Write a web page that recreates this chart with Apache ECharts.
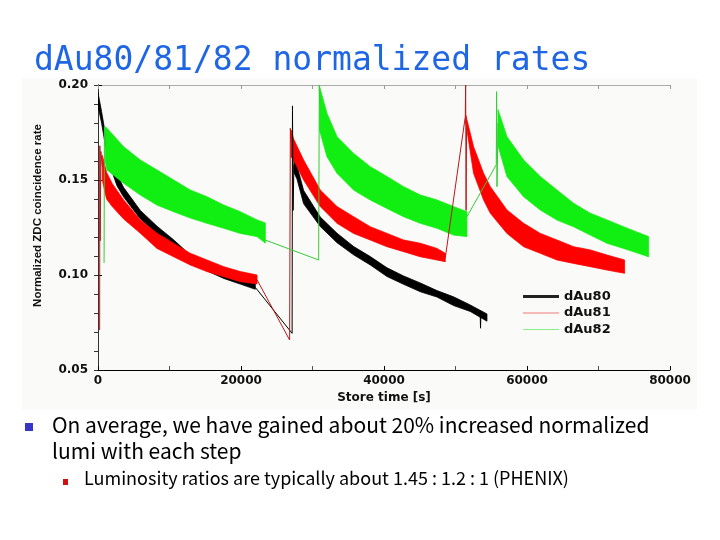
<!DOCTYPE html>
<html>
<head>
<meta charset="utf-8">
<script src="https://cdn.jsdelivr.net/npm/echarts@6/dist/echarts.min.js"></script>
<style>
  html, body { margin: 0; padding: 0; background: #fff; }
  #chart { width: 720px; height: 540px; }
</style>
</head>
<body>
<div id="chart"></div>
<script>
// tick labels
var xTicks = [0, 20000, 40000, 60000, 80000];
var yTicks = [0.05, 0.10, 0.15, 0.20];

// dAu80 (black) - noisy bands read as lower / upper envelope
var au80_t1  = [0, 500, 1000, 2000, 2650, 3590, 5920, 8250, 10580, 12900, 15240, 17580, 19900, 22000];
var au80_hi1 = [0.196, 0.186, 0.175, 0.160, 0.153, 0.146, 0.134, 0.1257, 0.1185, 0.1105, 0.106, 0.102, 0.099, 0.096];
var au80_lo1 = [0.189, 0.180, 0.169, 0.154, 0.147, 0.141, 0.1295, 0.1217, 0.1148, 0.1068, 0.1022, 0.0982, 0.0952, 0.0925];
var au80_t2  = [27400, 27830, 28760, 31090, 33430, 35750, 38080, 40420, 42740, 45080, 47410, 49730, 52070, 54400];
var au80_hi2 = [0.162, 0.1575, 0.1445, 0.1305, 0.122, 0.115, 0.1097, 0.1038, 0.0995, 0.0958, 0.0918, 0.0885, 0.0842, 0.0795];
var au80_lo2 = [0.154, 0.1505, 0.1375, 0.1255, 0.117, 0.1106, 0.1053, 0.0992, 0.0951, 0.0912, 0.0884, 0.0839, 0.0808, 0.0757];
var au80_links = [
    [[22000, 0.0935], [27150, 0.0693], [27200, 0.189], [27280, 0.134], [27400, 0.158]],
    [[53450, 0.0805], [53500, 0.0720], [53560, 0.0805]]
];

// dAu81 (red)
var au81_t1  = [600, 1200, 2000, 3590, 5920, 8250, 10580, 12900, 15240, 17580, 19900, 22240];
var au81_hi1 = [0.163, 0.154, 0.148, 0.1395, 0.129, 0.122, 0.1167, 0.1114, 0.1079, 0.1044, 0.1018, 0.100];
var au81_lo1 = [0.150, 0.140, 0.136, 0.1295, 0.122, 0.114, 0.1096, 0.1053, 0.1018, 0.0991, 0.0965, 0.0953];
var au81_t2  = [27000, 27360, 28760, 31090, 33430, 35750, 38080, 40420, 42740, 45080, 47410, 48570];
var au81_hi2 = [0.1763, 0.1716, 0.1605, 0.1447, 0.136, 0.1307, 0.1254, 0.1219, 0.1184, 0.1167, 0.114, 0.1114];
var au81_lo2 = [0.1623, 0.1605, 0.150, 0.136, 0.1272, 0.1219, 0.1184, 0.1149, 0.1123, 0.1096, 0.1079, 0.107];
var au81_t3  = [51450, 52530, 53930, 54870, 57200, 59530, 61860, 64200, 66520, 68850, 71190, 73650];
var au81_hi3 = [0.184, 0.1675, 0.1535, 0.1465, 0.1342, 0.1272, 0.1219, 0.1184, 0.1149, 0.1132, 0.1105, 0.1079];
var au81_lo3 = [0.180, 0.1535, 0.1395, 0.1325, 0.1219, 0.1149, 0.1114, 0.1079, 0.1061, 0.1044, 0.1026, 0.1009];
var au81_links = [
    [[230, 0.071], [260, 0.168], [300, 0.118], [400, 0.165], [600, 0.157]],
    [[22240, 0.0975], [26800, 0.0658], [26900, 0.1772], [27000, 0.170]],
    [[48570, 0.109], [51370, 0.1833], [51420, 0.200], [51480, 0.134], [51550, 0.178]]
];

// dAu82 (green)
var au82_t1  = [1000, 1260, 3590, 5920, 8250, 10580, 12910, 15240, 17580, 19900, 22240, 23400];
var au82_hi1 = [0.178, 0.1772, 0.1675, 0.1605, 0.1553, 0.150, 0.1447, 0.1412, 0.1368, 0.1333, 0.129, 0.1274];
var au82_lo1 = [0.160, 0.1553, 0.1483, 0.1421, 0.1368, 0.1333, 0.130, 0.1272, 0.1246, 0.1219, 0.1202, 0.1168];
var au82_t2  = [31000, 32030, 33430, 35750, 38080, 40420, 42740, 45080, 47410, 49730, 51600];
var au82_hi2 = [0.199, 0.185, 0.1728, 0.164, 0.157, 0.1518, 0.1465, 0.1421, 0.1395, 0.136, 0.1333];
var au82_lo2 = [0.176, 0.1623, 0.1535, 0.1447, 0.1395, 0.135, 0.1307, 0.1272, 0.1246, 0.121, 0.1202];
var au82_t3  = [55950, 57200, 59530, 61860, 64200, 66520, 68850, 71190, 73500, 75250, 77000];
var au82_hi3 = [0.187, 0.1728, 0.1605, 0.1518, 0.1447, 0.1377, 0.1325, 0.129, 0.1254, 0.1228, 0.1202];
var au82_lo3 = [0.168, 0.1518, 0.1412, 0.1342, 0.1289, 0.1254, 0.121, 0.1167, 0.114, 0.1118, 0.1096];
var au82_links = [
    [[850, 0.1063], [900, 0.178], [1000, 0.170]],
    [[23400, 0.1184], [30860, 0.1079], [30950, 0.200], [31000, 0.190]],
    [[51600, 0.1307], [55700, 0.158], [55750, 0.1965], [55800, 0.1465], [55950, 0.180]]
];

var boldFont = {fontFamily: "DejaVu Sans", fontWeight: "bold", fontSize: 12, color: "#111"};

// one filled polygon per band, upper edge then lower edge backwards
function band(name, t, lo, hi, color) {
    return {
        name: name, type: "custom", silent: true, clip: true,
        data: t.map(function (x, i) { return [x, lo[i], hi[i]]; }),
        itemStyle: {color: color},
        renderItem: function (params, api) {
            if (params.dataIndex !== 0) return;
            var pts = [], i;
            for (i = 0; i < t.length; i++) pts.push(api.coord([t[i], hi[i]]));
            for (i = t.length - 1; i >= 0; i--) pts.push(api.coord([t[i], lo[i]]));
            return {
                type: "polygon", shape: {points: pts},
                style: {fill: color, stroke: color, lineWidth: 0.8}
            };
        }
    };
}

function link(name, pts, color) {
    return {
        name: name, type: "line", symbol: "none", silent: true, data: pts,
        itemStyle: {color: color},
        lineStyle: {width: 1, color: color}
    };
}

var series = [];
au80_links.forEach(function (p) { series.push(link("dAu80", p, "#000000")); });
series.push(band("dAu80", au80_t1, au80_lo1, au80_hi1, "#000000"));
series.push(band("dAu80", au80_t2, au80_lo2, au80_hi2, "#000000"));
au81_links.forEach(function (p) { series.push(link("dAu81", p, "#b81818")); });
series.push(band("dAu81", au81_t1, au81_lo1, au81_hi1, "#ff0000"));
series.push(band("dAu81", au81_t2, au81_lo2, au81_hi2, "#ff0000"));
series.push(band("dAu81", au81_t3, au81_lo3, au81_hi3, "#ff0000"));
au82_links.forEach(function (p) { series.push(link("dAu82", p, "#33cc33")); });
series.push(band("dAu82", au82_t1, au82_lo1, au82_hi1, "#11ee11"));
series.push(band("dAu82", au82_t2, au82_lo2, au82_hi2, "#11ee11"));
series.push(band("dAu82", au82_t3, au82_lo3, au82_hi3, "#11ee11"));

function legendRow(name, top, h, color) {
    return {
        orient: "vertical", left: 518, top: top, itemWidth: 36, itemHeight: h, icon: "rect",
        textStyle: {fontFamily: "DejaVu Sans", fontWeight: "bold", fontSize: 13, color: "#111"},
        data: [{name: name, itemStyle: {color: color}}]
    };
}

var option = {
    animation: false,
    title: {
        text: "dAu80/81/82 normalized rates",
        left: 29, top: 40,
        textStyle: {fontFamily: "DejaVu Sans Mono", fontWeight: "normal", fontSize: 33, color: "#1f66e5"}
    },
    graphic: [
        {type: "rect", z: -1, shape: {x: 22, y: 78, width: 675, height: 332}, style: {fill: "#fafbf8"}},
        {type: "rect", shape: {x: 25, y: 423, width: 8, height: 8}, style: {fill: "#3535c8"}},
        {type: "text", left: 52, top: 412, style: {
            text: "On average, we have gained about 20% increased normalized\nlumi with each step",
            font: "21px 'Noto Sans CJK JP'", fill: "#000", lineHeight: 26}},
        {type: "rect", shape: {x: 63, y: 479, width: 5, height: 6}, style: {fill: "#d01010"}},
        {type: "text", left: 84, top: 469, style: {
            text: "Luminosity ratios are typically about 1.45 : 1.2 : 1 (PHENIX)",
            font: "18px 'Noto Sans CJK JP'", fill: "#000"}}
    ],
    legend: [
        legendRow("dAu80", 285, 3, "#222"),
        legendRow("dAu81", 301.5, 1, "#f07878"),
        legendRow("dAu82", 318, 1, "#88ee88")
    ],
    grid: {left: 98, right: 50, top: 85, bottom: 170},
    xAxis: [{
        type: "value", min: xTicks[0], max: xTicks[xTicks.length - 1], interval: 20000, position: "bottom",
        name: "Store time [s]", nameLocation: "middle", nameGap: 21,
        nameTextStyle: boldFont,
        axisLine: {show: true, lineStyle: {color: "#000", width: 1}},
        axisTick: {show: true, inside: true, length: 4, lineStyle: {color: "#000"}},
        minorTick: {show: true, splitNumber: 2, length: 4, lineStyle: {color: "#555"}},
        splitLine: {show: false},
        axisLabel: Object.assign({margin: 5, formatter: function (v) { return String(v); }}, boldFont)
    }, {
        type: "value", min: xTicks[0], max: xTicks[xTicks.length - 1], interval: 10000, position: "top",
        axisLine: {show: true, lineStyle: {color: "#aaa", width: 1}},
        axisTick: {show: true, inside: true, length: 4, lineStyle: {color: "#999"}},
        axisLabel: {show: false}, splitLine: {show: false}
    }],
    yAxis: [{
        type: "value", min: yTicks[0], max: yTicks[yTicks.length - 1], interval: 0.05, position: "left",
        name: "Normalized ZDC coincidence rate", nameLocation: "middle", nameGap: 54,
        nameTextStyle: {fontFamily: "Liberation Sans", fontWeight: "bold", fontSize: 11.5, color: "#111",
            padding: [0, 0, 0, 24]},
        axisLine: {show: true, lineStyle: {color: "#000", width: 1}},
        axisTick: {show: true, inside: true, length: 4, lineStyle: {color: "#000"}},
        splitLine: {show: false},
        axisLabel: Object.assign({margin: 10, formatter: function (v) { return v.toFixed(2); }}, boldFont)
    }, {
        type: "value", min: yTicks[0], max: yTicks[yTicks.length - 1], interval: 0.01, position: "right",
        axisLine: {show: true, lineStyle: {color: "#333", width: 1}},
        axisTick: {show: true, inside: true, length: 4, lineStyle: {color: "#333"}},
        axisLabel: {show: false}, splitLine: {show: false}
    }],
    series: series
};

echarts.init(document.getElementById("chart")).setOption(option);
</script>
</body>
</html>
